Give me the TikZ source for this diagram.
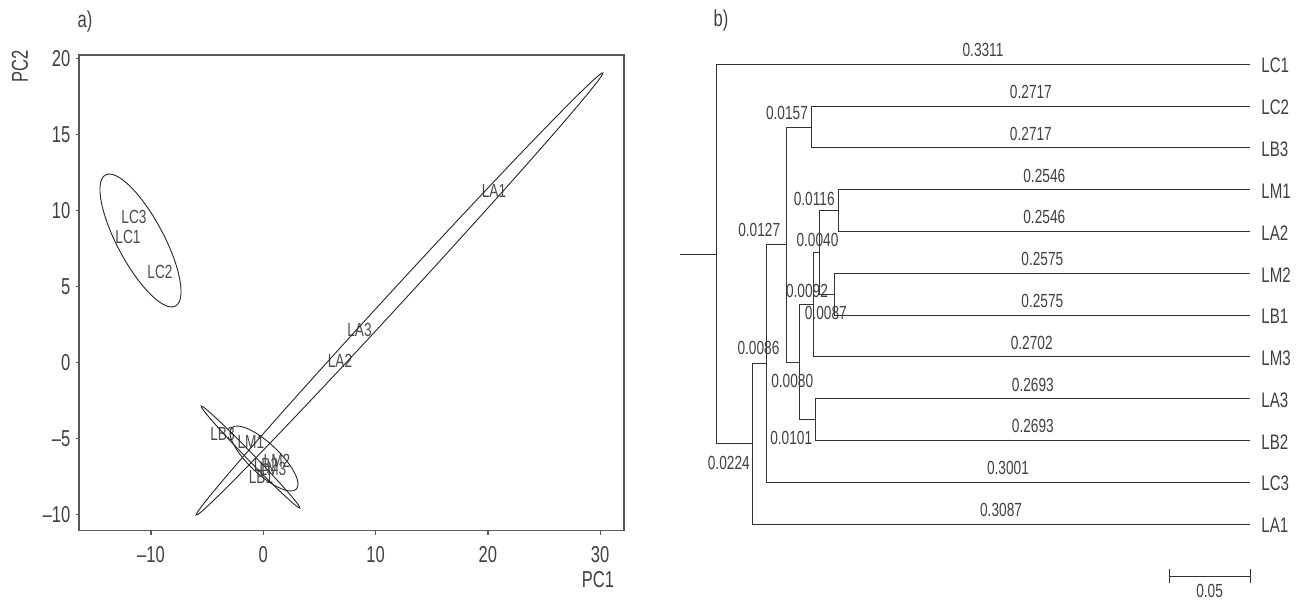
\documentclass[tikz,border=0pt]{standalone}
\usepackage{fontspec}
\setmainfont{Liberation Sans}[FakeStretch=0.72]
\usetikzlibrary{positioning}

\begin{document}
\begin{tikzpicture}[x=0.5pt, y=-0.5pt,
    frame/.style={draw=black!65, line width=0.6pt},
    ell/.style={black!85, line width=0.45pt},
    branch/.style={black!80, line width=0.5pt},
    ticklab/.style={font=\fontsize{11.5}{12}\selectfont, text=black!75, inner sep=0pt},
    ptlab/.style={font=\fontsize{9.5}{10}\selectfont, text=black!70, inner sep=0pt},
    leaflab/.style={font=\fontsize{10.5}{11}\selectfont, text=black!75, inner sep=0pt},
    brlab/.style={font=\fontsize{9.5}{10}\selectfont, text=black!75, inner sep=0pt}]
  \useasboundingbox (0,0) rectangle (1302,600);

  % a) PCA scores
  \node[ticklab] (tagA) at (85,22) {a)};
  \begin{scope}[shift={(263.3,362.3)}, x=5.615pt, y=7.59pt]
    \draw[frame] (-16.41,-11.09) rectangle (32.12,20.24);
    \foreach \val/\lab in {-10/–10,0/0,10/10,20/20,30/30}{
      \draw[frame] (\val,-11.09) -- (\val,-11.37);
      \node[ticklab] at (\val,-12.69) {\lab};
    }
    \foreach \val/\lab in {-10/–10,-5/–5,0/0,5/5,10/10,15/15,20/20}{
      \draw[frame] (-16.41,\val) -- (-16.72,\val);
      \node[ticklab, anchor=east] at (-17.15,\val) {\lab};
    }
    \node[ticklab] (pc1) at (29.8,-14.3) {PC1};
    \node[ticklab, rotate=90] (pc2) at (-21.67,19.47) {PC2};
    % samples
    \node[ptlab] (pLC3) at (-11.51,9.57) {LC3};
    \node[ptlab] (pLC1) at (-12.05,8.25) {LC1};
    \node[ptlab] (pLC2) at (-9.20,5.95) {LC2};
    \node[ptlab] (pLA1) at (20.54,11.28) {LA1};
    \node[ptlab] (pLA3) at (8.57,2.16) {LA3};
    \node[ptlab] (pLA2) at (6.83,0.09) {LA2};
    \node[ptlab] (pLB3) at (-3.63,-4.69) {LB3};
    \node[ptlab] (pLM1) at (-1.10,-5.25) {LM1};
    \node[ptlab] (pLM2) at (1.22,-6.50) {LM2};
    \node[ptlab] (pLB2) at (0.24,-6.77) {LB2};
    \node[ptlab] (pLM3) at (0.86,-7.04) {LM3};
    \node[ptlab] (pLB1) at (-0.20,-7.56) {LB1};
  \end{scope}
  % confidence ellipses
  \draw[ell] (140.5,240.5) ellipse [x radius=74.3, y radius=23.2, rotate=-61.9];
  \draw[ell] (399.5,294) ellipse [x radius=300.4, y radius=7.5, rotate=47.4];
  \draw[ell] (250.5,457) ellipse [x radius=71, y radius=3.5, rotate=-45.9];
  \draw[ell] (264,458.5) ellipse [x radius=44.5, y radius=15.2, rotate=-43.4];

  % b) dendrogram
  \node[ticklab] (tagB) at (721,21) {b)};
  \foreach \nm/\yy in {LC1/64.3,LC2/106.1,LB3/147.9,LM1/189.7,LA2/231.5,LM2/273.3,
      LB1/315.1,LM3/356.9,LA3/398.7,LB2/440.5,LC3/482.3,LA1/524.1}{
    \coordinate (t\nm) at (1250,\yy);
    \node[leaflab, right=5.5pt of t\nm, yshift=-0.7pt] (n\nm) {\nm};
  }
  \coordinate (stub) at (680,254);
  \coordinate (root) at (716,254);
  \coordinate (A) at (752.1,443.8);
  \coordinate (B) at (766.0,363.4);
  \coordinate (C) at (786.5,244.6);
  \coordinate (D) at (811.8,127.0);
  \coordinate (E) at (799.4,362.1);
  \coordinate (K) at (813.4,304.65);
  \coordinate (J) at (819.9,252.4);
  \coordinate (H) at (838.6,210.6);
  \coordinate (I) at (834.7,294.2);
  \coordinate (G) at (815.7,419.6);

  \draw[branch] (stub) -- (root);
  \draw[branch] (root) |- (tLC1) node[brlab, pos=.75, above=3.5pt] {0.3311};
  \draw[branch] (root) |- (A);
  \draw[branch] (A) |- (B);
  \draw[branch] (A) |- (tLA1) node[brlab, pos=.75, above=3.5pt] {0.3087};
  \draw[branch] (B) |- (C);
  \draw[branch] (B) |- (tLC3) node[brlab, pos=.75, above=3.5pt] {0.3001};
  \draw[branch] (C) |- (D);
  \draw[branch] (C) |- (E);
  \draw[branch] (D) |- (tLC2) node[brlab, pos=.75, above=3.5pt] {0.2717};
  \draw[branch] (D) |- (tLB3) node[brlab, pos=.75, above=3.5pt] {0.2717};
  \draw[branch] (E) |- (K);
  \draw[branch] (E) |- (G);
  \draw[branch] (K) |- (J);
  \draw[branch] (K) |- (tLM3) node[brlab, pos=.75, above=3.5pt] {0.2702};
  \draw[branch] (J) |- (H);
  \draw[branch] (J) |- (I);
  \draw[branch] (H) |- (tLM1) node[brlab, pos=.75, above=3.5pt] {0.2546};
  \draw[branch] (H) |- (tLA2) node[brlab, pos=.75, above=3.5pt] {0.2546};
  \draw[branch] (I) |- (tLM2) node[brlab, pos=.75, above=3.5pt] {0.2575};
  \draw[branch] (I) |- (tLB1) node[brlab, pos=.75, above=3.5pt] {0.2575};
  \draw[branch] (G) |- (tLA3) node[brlab, pos=.75, above=3.5pt] {0.2693};
  \draw[branch] (G) |- (tLB2) node[brlab, pos=.75, above=3.5pt] {0.2693};

  % inner branch lengths
  \node[brlab] (lD) at (787,113.3) {0.0157};
  \node[brlab] (lH) at (814.2,198.8) {0.0116};
  \node[brlab] (lC) at (759.2,230.3) {0.0127};
  \node[brlab] (lJ) at (817.5,239.5) {0.0040};
  \node[brlab] (lI) at (807,291) {0.0092};
  \node[brlab] (lK) at (825.8,312.5) {0.0087};
  \node[brlab] (lB) at (758.5,347.5) {0.0086};
  \node[brlab] (lE) at (792.2,380.8) {0.0080};
  \node[brlab] (lG) at (791.2,437.5) {0.0101};
  \node[brlab] (lA) at (728.8,463.3) {0.0224};

  % scale bar
  \coordinate (sb0) at (1169.3,576);
  \coordinate (sb1) at (1250,576);
  \draw[branch] (sb0) -- (sb1);
  \draw[branch] ([yshift=3.5pt]sb0) -- ([yshift=-3.5pt]sb0);
  \draw[branch] ([yshift=3.5pt]sb1) -- ([yshift=-3.5pt]sb1);
  \node[brlab] (sblab) at (1209.6,590.5) {0.05};
\end{tikzpicture}
\end{document}
